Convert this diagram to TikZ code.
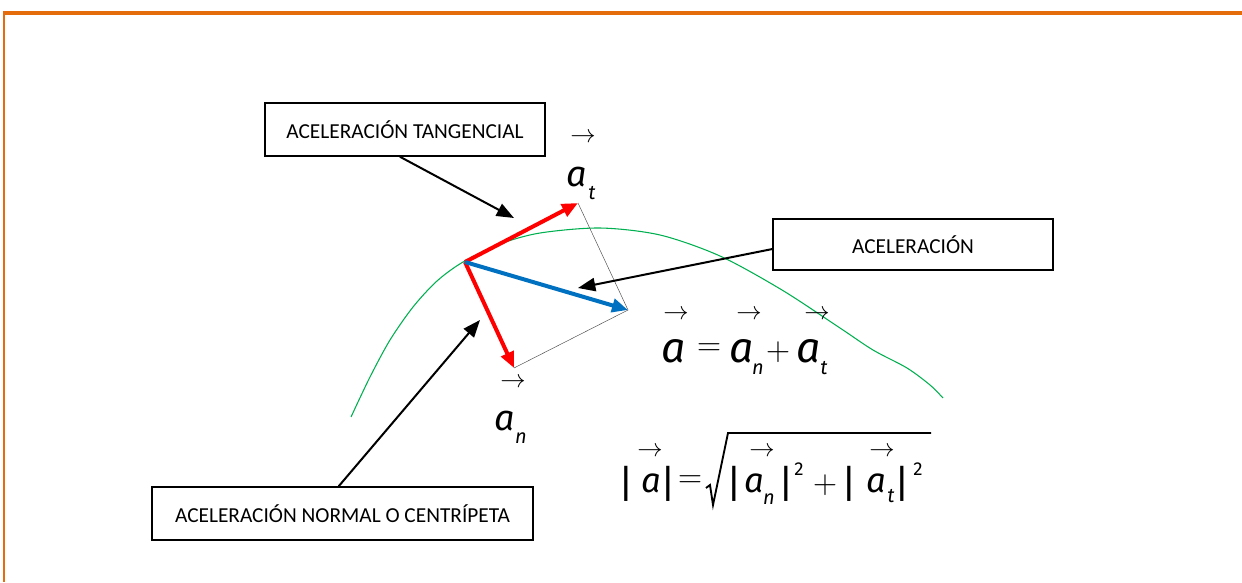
\RequirePackage{fix-cm}
\documentclass[tikz,border=0pt]{standalone}
\usepackage{fontspec}
\setmainfont{Carlito}
\newfontfamily\mfont{Fira Sans}
\usetikzlibrary{arrows.meta,calc}
\definecolor{bord}{RGB}{228,108,10}
\definecolor{crv}{RGB}{0,176,80}
\definecolor{vblue}{RGB}{0,112,192}
\begin{document}
\begin{tikzpicture}[x=0.75pt,y=-0.75pt,
  lbox/.style={draw=black,line width=1.1pt,inner sep=0pt,font=\fontsize{16}{18}\selectfont},
  vec/.style={line width=3pt,-{Triangle[length=12pt,width=10pt]}},
  callout/.style={draw=black,line width=1.5pt,-{Triangle[length=13pt,width=10pt]}},
  guide/.style={draw=black!70,line width=0.35pt},
  va/.style={font=\mfont\itshape\fontsize{#1}{#1}\selectfont,inner sep=0pt,anchor=base},
  sub/.style={font=\mfont\itshape\fontsize{15}{15}\selectfont,inner sep=0pt,anchor=base},
  arr/.style={font=\fontsize{19}{19}\selectfont,inner sep=0pt},
  op/.style={font=\fontsize{25}{25}\selectfont,inner sep=0pt},
  bar/.style={font=\mfont\fontsize{29}{29}\selectfont,inner sep=0pt},
  sq/.style={font=\mfont\fontsize{14}{14}\selectfont,inner sep=0pt,anchor=base}]
\useasboundingbox (0,0) rectangle (1242,582);
% frame
\draw[bord,line width=3pt] (3,13) -- (1242,13);
\draw[bord,line width=1.4pt] (4,12) -- (4,582);
% boxes
\node[lbox,minimum width=210pt,minimum height=39.75pt] (tang) at (405,129.5) {ACELERACIÓN TANGENCIAL};
\node[lbox,minimum width=210pt,minimum height=38.25pt] (acel) at (913,244.5) {ACELERACIÓN};
\node[lbox,minimum width=285.75pt,minimum height=39.75pt] (norm) at (342.5,513.5) {ACELERACIÓN NORMAL O CENTRÍPETA};
% curve
\draw[crv,line width=0.8pt] plot[smooth,tension=0.5] coordinates {(351,417) (370,377) (390,340) (413,307) (437,281) (463,262) (500,244) (540,233) (600,228) (660,235) (720,256) (782,290) (840,328) (873,350) (907,368) (930,385) (943,398)};
% vectors
\coordinate (O) at (465,262);
\coordinate (AT) at (578,203);
\coordinate (AN) at (514,368);
\coordinate (A) at (628,310);
\draw[guide] (AT) -- (A) -- (AN);
\draw[vec,red] (O) -- (AT);
\draw[vec,red] (O) -- (AN);
\draw[vec,vblue] (O) -- (A);
% callouts
\coordinate (c1) at (514,218);
\coordinate (c2) at (578,288);
\coordinate (c3) at (480,320);
\draw[callout] ($(tang.south west)!0.482!(tang.south east)$) -- (c1);
\draw[callout] ([yshift=-3.4pt]acel.west) -- (c2);
\draw[callout] ($(norm.north west)!0.49!(norm.north east)$) -- (c3);
% labels a_t and a_n
\node[arr] (atarr) at (583,138) {$\rightarrow$};
\node[va=27] (ata) at (577,186) {a};
\node[sub] (att) at (592,199) {t};
\node[arr] (anarr) at (513,383) {$\rightarrow$};
\node[va=27] (ana) at (505,430) {a};
\node[sub] (ann) at (521,443) {n};
% equation 1
\node[arr] (e1r1) at (676,315) {$\rightarrow$};
\node[va=32] (e1a1) at (674,362) {a};
\node[op] (e1eq) at (709,350) {$=$};
\node[arr] (e1r2) at (749,315) {$\rightarrow$};
\node[va=32] (e1a2) at (742,362) {a};
\node[sub] (e1n) at (758,374) {n};
\node[op] (e1pl) at (778,352) {$+$};
\node[arr] (e1r3) at (817,315) {$\rightarrow$};
\node[va=32] (e1a3) at (809,362) {a};
\node[sub] (e1t) at (824,374) {t};
% equation 2
\node[bar] (b1) at (626,484) {|};
\node[arr] (e2r1) at (650,452) {$\rightarrow$};
\node[va=26] (e2a1) at (651,492) {a};
\node[bar] (b2) at (668,484) {|};
\node[op] (e2eq) at (690,482) {$=$};
\draw[black,line width=1.4pt] (706,488) -- (710,485) -- (713,505) -- (728,433) -- (931,433);
\node[bar] (b3) at (734,484) {|};
\node[arr] (e2r2) at (762,452) {$\rightarrow$};
\node[va=26] (e2a2) at (754,492) {a};
\node[sub] (e2n) at (769,504) {n};
\node[bar] (b4) at (786,484) {|};
\node[sq] (s1) at (799,475) {2};
\node[op] (e2pl) at (825,485) {$+$};
\node[bar] (b5) at (849,484) {|};
\node[arr] (e2r3) at (882,452) {$\rightarrow$};
\node[va=26] (e2a3) at (876,492) {a};
\node[sub] (e2t) at (891,502) {t};
\node[bar] (b6) at (902,484) {|};
\node[sq] (s2) at (918,475) {2};
\end{tikzpicture}
\end{document}
